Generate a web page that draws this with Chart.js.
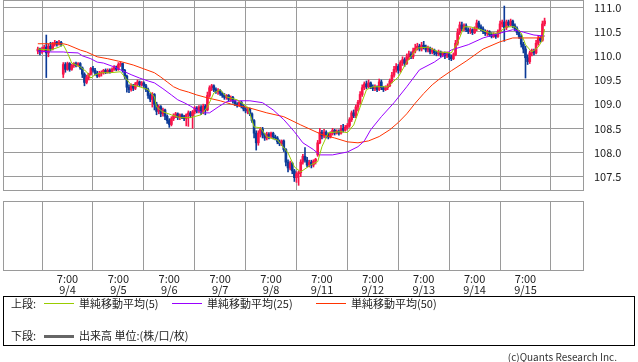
<!DOCTYPE html>
<html><head><meta charset="utf-8">
<script src="https://cdn.jsdelivr.net/npm/chart.js@4/dist/chart.umd.min.js"></script>
<style>
html,body{margin:0;padding:0;background:#fff;}
body{width:638px;height:362px;overflow:hidden;position:relative;font-family:'Noto Sans CJK JP','Noto Sans',sans-serif;color:#222;}
#c1{position:absolute;left:0;top:0;}
#c2{position:absolute;left:0;top:190px;}
#legend{position:absolute;left:3px;top:296px;width:630px;height:48px;border:1px solid #000;font-size:11px;}
.t{position:absolute;line-height:13px;white-space:nowrap;}
.ln{position:absolute;height:1px;width:30px;}
#copy{position:absolute;right:21px;top:350px;font-size:10px;line-height:13px;color:#333;white-space:nowrap;}
</style></head>
<body>
<canvas id="c1" width="638" height="191"></canvas>
<canvas id="c2" width="638" height="110"></canvas>
<div id="legend">
  <span class="t" style="left:7px;top:0px;">上段:</span>
  <div class="ln" style="left:40px;top:6px;background:#99cc00"></div>
  <span class="t" style="left:75px;top:0px;">単純移動平均(5)</span>
  <div class="ln" style="left:168px;top:6px;background:#9900ff"></div>
  <span class="t" style="left:203px;top:0px;">単純移動平均(25)</span>
  <div class="ln" style="left:312px;top:6px;background:#ff3300"></div>
  <span class="t" style="left:347px;top:0px;">単純移動平均(50)</span>
  <span class="t" style="left:7px;top:32px;">下段:</span>
  <div class="ln" style="left:40px;top:38px;height:3px;background:#666"></div>
  <span class="t" style="left:75px;top:32px;">出来高 単位:(株/口/枚)</span>
</div>
<div id="copy">(c)Quants Research Inc.</div>
<script>
// ---- data (hourly candles, index 0 = first candle) ----
const opens = [110.10,110.14,110.08,110.14,110.18,110.06,110.20,110.14,110.24,110.28,110.24,110.28,
109.62,109.82,109.72,109.84,109.72,109.80,109.84,109.80,109.84,109.75,109.62,109.45,109.55,109.62,109.74,109.70,109.64,109.58,109.64,109.66,109.70,109.66,109.70,109.67,109.72,109.77,
109.72,109.82,109.84,109.70,109.58,109.35,109.30,109.38,109.33,109.42,109.46,109.40,109.44,109.38,109.30,109.18,109.10,109.20,109.00,108.85,108.95,108.80,108.88,108.75,
108.66,108.58,108.70,108.76,108.80,108.72,108.78,108.74,108.70,108.78,108.82,108.76,108.84,108.92,108.86,108.94,108.84,108.96,108.88,109.18,109.34,109.38,109.30,109.26,
109.28,109.22,109.18,109.14,109.18,109.10,109.14,109.06,109.00,108.98,109.04,108.96,108.90,108.86,108.90,108.80,108.66,108.40,108.20,108.40,108.48,108.36,108.30,108.38,
108.34,108.40,108.32,108.30,108.22,108.18,108.24,108.06,107.80,107.68,107.78,107.62,107.48,107.56,107.58,107.80,107.92,107.84,107.74,107.80,107.74,107.82,107.95,108.20,
108.42,108.34,108.42,108.36,108.32,108.40,108.46,108.40,108.44,108.40,108.50,108.46,108.52,108.56,108.68,108.82,108.76,108.94,109.04,109.20,109.34,109.42,109.36,109.44,
109.36,109.32,109.36,109.30,109.46,109.34,109.30,109.34,109.38,109.48,109.60,109.72,109.78,109.70,109.86,109.92,109.84,109.98,110.04,109.98,110.10,110.16,110.20,110.14,
110.22,110.18,110.12,110.16,110.08,110.12,110.06,110.04,110.08,110.02,110.06,110.00,110.04,109.98,109.94,110.02,110.26,110.48,110.64,110.56,110.62,110.54,110.50,110.54,
110.48,110.56,110.68,110.60,110.56,110.50,110.46,110.50,110.44,110.40,110.44,110.40,110.50,110.66,110.70,110.58,110.70,110.64,110.72,110.62,110.56,110.48,110.40,110.24,
110.14,109.96,109.88,110.06,110.10,110.06,110.26,110.36,110.32,110.66];
const highs = [110.18,110.16,110.18,110.22,110.43,110.24,110.28,110.28,110.32,110.30,110.32,110.30,
109.86,109.86,109.87,109.86,109.83,109.86,109.87,109.86,109.86,109.77,109.65,109.60,109.64,109.76,109.78,109.74,109.68,109.68,109.69,109.72,109.73,109.73,109.73,109.75,109.80,109.79,
109.86,109.87,109.85,109.72,109.60,109.40,109.42,109.41,109.45,109.50,109.48,109.47,109.46,109.41,109.33,109.22,109.24,109.22,109.04,108.98,108.97,108.92,108.90,108.78,
108.70,108.74,108.80,108.83,108.82,108.80,108.80,108.77,108.80,108.86,108.85,108.87,108.95,108.95,108.97,108.97,109.00,108.99,109.25,109.38,109.41,109.40,109.34,109.32,
109.30,109.25,109.22,109.20,109.20,109.17,109.16,109.09,109.03,109.06,109.06,108.99,108.93,108.92,108.92,108.82,108.68,108.45,108.45,108.52,108.52,108.40,108.42,108.41,
108.42,108.42,108.36,108.33,108.26,108.26,108.26,108.08,107.85,107.82,107.80,107.65,107.60,107.62,107.85,107.96,108.10,107.90,107.84,107.84,107.85,107.88,108.25,108.50,
108.46,108.48,108.45,108.40,108.43,108.50,108.48,108.47,108.47,108.56,108.58,108.56,108.60,108.72,108.86,108.88,108.98,109.08,109.26,109.40,109.46,109.48,109.50,109.46,
109.40,109.40,109.38,109.52,109.50,109.37,109.38,109.42,109.52,109.66,109.78,109.84,109.82,109.90,109.98,109.96,110.04,110.10,110.08,110.16,110.24,110.26,110.24,110.28,
110.30,110.22,110.20,110.18,110.16,110.14,110.10,110.12,110.10,110.08,110.08,110.08,110.06,110.02,110.06,110.32,110.56,110.70,110.70,110.66,110.66,110.58,110.58,110.56,
110.60,110.74,110.72,110.64,110.60,110.54,110.53,110.52,110.48,110.48,110.46,110.54,110.72,110.74,111.03,110.74,110.74,110.76,110.74,110.66,110.60,110.52,110.44,110.28,
110.20,110.02,110.10,110.14,110.14,110.32,110.42,110.40,110.72,110.78];
const lows = [110.04,110.02,110.05,110.08,109.55,109.98,110.10,110.12,110.20,110.20,110.22,110.20,
109.55,109.66,109.70,109.68,109.70,109.76,109.77,109.78,109.72,109.55,109.38,109.42,109.50,109.60,109.66,109.60,109.55,109.56,109.58,109.62,109.63,109.64,109.64,109.65,109.70,109.69,
109.70,109.78,109.66,109.53,109.25,109.24,109.27,109.28,109.30,109.38,109.36,109.37,109.34,109.26,109.12,109.05,108.94,108.88,108.78,108.80,108.74,108.75,108.68,108.60,
108.52,108.55,108.66,108.72,108.68,108.68,108.70,108.66,108.55,108.54,108.72,108.50,108.80,108.82,108.82,108.78,108.80,108.78,108.86,109.14,109.28,109.26,109.22,109.20,
109.18,109.14,109.10,109.10,109.06,109.06,109.02,108.97,108.94,108.95,108.92,108.86,108.82,108.80,108.76,108.62,108.30,108.05,108.15,108.32,108.30,108.25,108.26,108.28,
108.30,108.28,108.26,108.18,108.14,108.14,108.02,107.72,107.60,107.64,107.56,107.40,107.38,107.32,107.50,107.76,107.80,107.70,107.70,107.68,107.70,107.76,107.92,108.18,
108.28,108.30,108.30,108.28,108.30,108.36,108.36,108.38,108.36,108.38,108.42,108.44,108.48,108.52,108.64,108.72,108.72,108.86,109.00,109.16,109.30,109.32,109.34,109.32,
109.28,109.28,109.26,109.28,109.30,109.26,109.28,109.30,109.36,109.44,109.56,109.66,109.64,109.66,109.80,109.78,109.82,109.92,109.94,109.94,110.06,110.12,110.10,110.10,
110.14,110.08,110.08,110.04,110.04,110.02,110.00,110.00,109.98,109.98,109.94,109.96,109.92,109.90,109.92,110.00,110.22,110.44,110.52,110.52,110.50,110.46,110.46,110.44,
110.46,110.52,110.56,110.52,110.46,110.42,110.42,110.40,110.37,110.38,110.36,110.38,110.46,110.60,110.30,110.54,110.60,110.62,110.58,110.52,110.44,110.36,110.18,110.06,
109.54,109.82,109.84,110.00,110.02,110.04,110.22,110.28,110.30,110.62];
const closes = [110.14,110.08,110.14,110.18,110.06,110.20,110.14,110.24,110.28,110.24,110.28,110.24,
109.82,109.72,109.84,109.72,109.80,109.84,109.80,109.84,109.75,109.62,109.45,109.55,109.62,109.74,109.70,109.64,109.58,109.64,109.66,109.70,109.66,109.70,109.67,109.72,109.77,109.72,
109.82,109.84,109.70,109.58,109.35,109.30,109.38,109.33,109.42,109.46,109.40,109.44,109.38,109.30,109.18,109.10,109.20,109.00,108.85,108.95,108.80,108.88,108.75,108.66,
108.58,108.70,108.76,108.80,108.72,108.78,108.74,108.70,108.78,108.82,108.76,108.84,108.92,108.86,108.94,108.84,108.96,108.88,109.18,109.34,109.38,109.30,109.26,109.28,
109.22,109.18,109.14,109.18,109.10,109.14,109.06,109.00,108.98,109.04,108.96,108.90,108.86,108.90,108.80,108.66,108.40,108.20,108.40,108.48,108.36,108.30,108.38,108.34,
108.40,108.32,108.30,108.22,108.18,108.24,108.06,107.80,107.68,107.78,107.62,107.48,107.56,107.58,107.80,107.92,107.84,107.74,107.80,107.74,107.82,107.86,108.20,108.42,
108.34,108.42,108.36,108.32,108.40,108.46,108.40,108.44,108.40,108.50,108.46,108.52,108.56,108.68,108.82,108.76,108.94,109.04,109.20,109.34,109.42,109.36,109.44,109.36,
109.32,109.36,109.30,109.46,109.34,109.30,109.34,109.38,109.48,109.60,109.72,109.78,109.70,109.86,109.92,109.84,109.98,110.04,109.98,110.10,110.16,110.20,110.14,110.22,
110.18,110.12,110.16,110.08,110.12,110.06,110.04,110.08,110.02,110.06,110.00,110.04,109.98,109.94,110.02,110.26,110.48,110.64,110.56,110.62,110.54,110.50,110.54,110.48,
110.56,110.68,110.60,110.56,110.50,110.46,110.50,110.44,110.40,110.44,110.40,110.50,110.66,110.70,110.58,110.70,110.64,110.72,110.62,110.56,110.48,110.40,110.24,110.14,
109.96,109.88,110.06,110.10,110.06,110.26,110.36,110.32,110.66,110.72];

// moving averages: candle index + value
const ma5Idx = [0,6,10,12,14,16,20,23,25,27,30,34,39,41,44,48,52,55,56,59,63,67,72,77,80,83,86,89,94,99,102,105,108,113,118,121,124,129,132,134,137,143,146,149,152,155,158,165,170,174,179,184,189,195,198,201,204,209,213,217,221,225,228,230,233,236,238,239];
const ma5Val = [110.14,110.12,110.18,110.23,110.06,109.85,109.77,109.67,109.54,109.61,109.65,109.65,109.67,109.56,109.40,109.36,109.30,109.15,108.94,108.84,108.78,108.72,108.72,108.78,108.94,109.23,109.30,109.15,109.09,108.94,108.53,108.51,108.32,108.26,107.99,107.70,107.60,107.75,107.81,108.12,108.41,108.43,108.41,108.57,108.94,109.30,109.36,109.36,109.56,109.87,110.16,110.18,110.08,110.06,110.27,110.60,110.60,110.54,110.47,110.47,110.60,110.60,110.47,110.23,110.08,110.18,110.33,110.55];
const ma25Idx = [0,6,12,14,19,21,25,28,31,36,40,44,48,52,55,59,63,66,69,72,75,78,81,85,89,92,100,106,111,116,121,125,130,133,139,146,151,154,157,162,168,174,180,187,195,203,210,218,224,229,234,239];
const ma25Val = [110.10,110.08,110.08,110.07,110.06,110.00,109.94,109.87,109.85,109.77,109.69,109.61,109.54,109.48,109.44,109.32,109.19,109.09,109.03,108.96,108.88,108.82,108.82,108.94,109.05,109.07,109.07,109.03,108.88,108.68,108.43,108.20,108.06,107.95,107.95,108.01,108.12,108.24,108.47,108.74,109.03,109.36,109.71,109.87,110.12,110.23,110.37,110.47,110.54,110.49,110.43,110.41];
const ma50Idx = [0,12,14,20,23,28,33,38,40,45,50,55,58,61,64,67,71,75,80,86,92,100,108,116,124,128,134,140,146,151,156,161,166,170,174,178,182,186,190,195,202,210,218,224,236,239];
const ma50Val = [110.25,110.25,110.23,110.12,110.08,109.98,109.94,109.89,109.87,109.81,109.73,109.65,109.56,109.46,109.36,109.30,109.25,109.19,109.13,109.07,108.99,108.92,108.82,108.74,108.57,108.49,108.37,108.30,108.22,108.20,108.24,108.33,108.47,108.62,108.80,109.02,109.22,109.40,109.54,109.69,109.89,110.14,110.29,110.37,110.37,110.41];

// axis ticks
const xTickIdx = [14,38,62,86,110,134,158,182,206,230];
const xTimeLabels = ['7:00','7:00','7:00','7:00','7:00','7:00','7:00','7:00','7:00','7:00'];
const xDateLabels = ['9/4','9/5','9/6','9/7','9/8','9/11','9/12','9/13','9/14','9/15'];
const yTicks = [107.5,108.0,108.5,109.0,109.5,110.0,110.5,111.0];

// ---- presentation ----
const UP = '#f8154a', DOWN = '#0c3b98', GRID = '#9a9a9a';
const XMIN = -16.42, XMAX = 257.59, YMIN = 107.203, YMAX = 111.155;
Chart.defaults.font.family = "'Noto Sans CJK JP','Noto Sans',sans-serif";
Chart.defaults.font.size = 11;
Chart.defaults.color = '#222';

const frame = {id:'frame', afterDatasetsDraw(ch){const c=ch.ctx,a=ch.chartArea;c.save();c.strokeStyle=GRID;c.lineWidth=1;
  c.strokeRect(Math.round(a.left)+0.5,Math.round(a.top)+0.5,Math.round(a.right-a.left)-1,Math.round(a.bottom-a.top)-1);c.restore();}};

const idx = closes.map((_, i) => i);
const colorOf = ctx => (closes[ctx.dataIndex] >= opens[ctx.dataIndex] ? UP : DOWN);
const pts = (ix, vals) => ix.map((x, k) => ({x, y: vals[k]}));
const xTicksFn = s => { s.ticks = xTickIdx.map(v => ({value: v})); };

new Chart(document.getElementById('c1'), {
  type: 'bar',
  data: { datasets: [
    {type:'line', data: pts(ma5Idx, ma5Val), borderColor:'#99cc00', borderWidth:1, pointRadius:0, tension:0, order:0},
    {type:'line', data: pts(ma25Idx, ma25Val), borderColor:'#9900ff', borderWidth:1, pointRadius:0, tension:0, order:0},
    {type:'line', data: pts(ma50Idx, ma50Val), borderColor:'#ff3300', borderWidth:1, pointRadius:0, tension:0, order:0},
    {data: idx.map(i => ({x:i, y:[lows[i], highs[i]]})), backgroundColor: colorOf, barThickness:1, maxBarThickness:1, grouped:false, order:2},
    {data: idx.map(i => ({x:i, y:[opens[i], closes[i]]})), backgroundColor: colorOf, barThickness:2, maxBarThickness:2, grouped:false, order:1}
  ]},
  options: {
    responsive:false, animation:false, events:[],
    plugins:{legend:{display:false}, tooltip:{enabled:false}},
    layout:{padding:{left:3, top:0, right:0, bottom:0}},
    scales:{
      x:{type:'linear', min:XMIN, max:XMAX, offset:false,
         grid:{color:GRID, drawTicks:false}, border:{display:false}, ticks:{display:false},
         afterBuildTicks: xTicksFn,
         afterFit: s => { s.height = 0; s.paddingLeft = 0; s.paddingRight = 0; }},
      y:{position:'right', min:YMIN, max:YMAX,
         grid:{color:GRID, drawTicks:false}, border:{display:false},
         ticks:{padding:10, color:'#222', font:{size:11}, callback: v => Number(v).toFixed(1)},
         afterBuildTicks: s => { s.ticks = yTicks.map(v => ({value: v})); },
         afterFit: s => { s.width = 54; s.paddingTop = 0; s.paddingBottom = 0; }}
    }
  },
  plugins:[frame]
});

new Chart(document.getElementById('c2'), {
  type: 'bar',
  data: { datasets: [] },
  options: {
    responsive:false, animation:false, events:[],
    plugins:{legend:{display:false}, tooltip:{enabled:false}},
    layout:{padding:{left:3, top:11, right:54, bottom:0}},
    scales:{
      x:{type:'linear', min:XMIN, max:XMAX, offset:false,
         grid:{color:GRID, drawTicks:false}, border:{display:false},
         ticks:{padding:2, color:'#222', font:{size:11, lineHeight:1}, maxRotation:0, autoSkip:false,
                callback: (v) => { const k = xTickIdx.indexOf(v); return k < 0 ? '' : [xTimeLabels[k], xDateLabels[k]]; }},
         afterBuildTicks: xTicksFn,
         afterFit: s => { s.height = 29; s.paddingLeft = 0; s.paddingRight = 0; }},
      y:{display:false, min:0, max:1}
    }
  },
  plugins:[frame]
});
</script>
</body></html>
